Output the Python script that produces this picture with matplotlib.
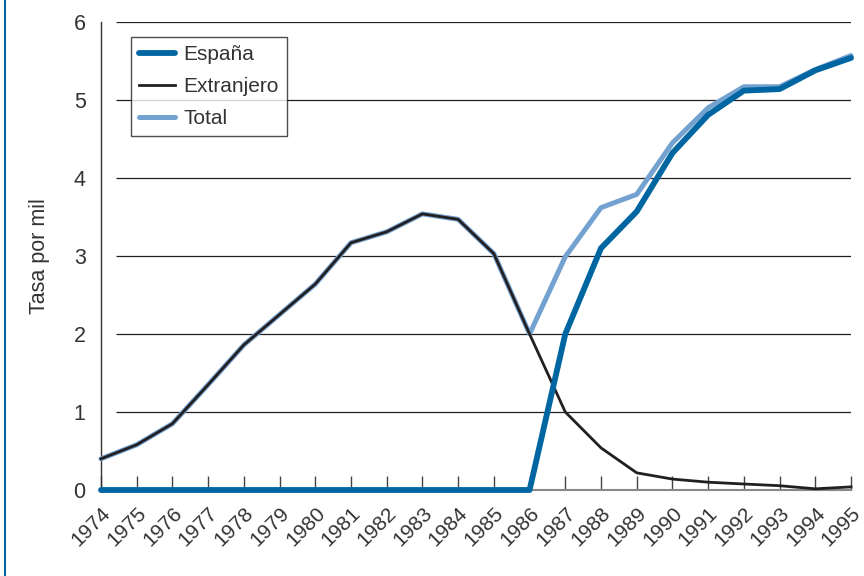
import matplotlib.pyplot as plt
from matplotlib.lines import Line2D
from matplotlib.transforms import ScaledTranslation

# ---- Data ----
years = list(range(1974, 1996))
espana = [0, 0, 0, 0, 0, 0, 0, 0, 0, 0, 0, 0, 0,
          2.0, 3.10, 3.57, 4.32, 4.81, 5.12, 5.14, 5.38, 5.54]
extranjero = [0.40, 0.58, 0.85, 1.35, 1.86, 2.25, 2.64, 3.17, 3.31, 3.54, 3.47, 3.03, 2.0,
              1.0, 0.54, 0.22, 0.14, 0.10, 0.077, 0.055, 0.015, 0.04]
total = [0.40, 0.58, 0.85, 1.35, 1.86, 2.25, 2.64, 3.17, 3.31, 3.54, 3.47, 3.03, 2.0,
         2.99, 3.62, 3.79, 4.45, 4.90, 5.17, 5.17, 5.39, 5.57]
y_ticks = [0, 1, 2, 3, 4, 5, 6]

# ---- Style ----
plt.rcParams['font.family'] = ['Liberation Sans', 'DejaVu Sans']
C_ESP = '#0066a1'
C_EXT = '#231f20'
C_TOT = '#74a2d0'
TEXT = '#333333'

fig = plt.figure(figsize=(8.64, 5.76), dpi=100)
ax = fig.add_axes([101 / 864, 1 - 490 / 576, 750 / 864, 468 / 576])

# gridlines start a bit right of the y spine
ax.hlines(y_ticks[1:], 0.02, 1.0, transform=ax.get_yaxis_transform(),
          color=C_EXT, lw=0.9, zorder=1)

ax.plot(years, total, color=C_TOT, lw=3.6, solid_capstyle='round',
        solid_joinstyle='round', clip_on=False, zorder=3, label='Total')
ax.plot(years, extranjero, color=C_EXT, lw=2.0, solid_joinstyle='round',
        clip_on=False, zorder=4, label='Extranjero')
ax.plot(years, espana, color=C_ESP, lw=4.2, solid_capstyle='round',
        solid_joinstyle='round', clip_on=False, zorder=5, label='España')

ax.set_xlim(1974, 1995)
ax.set_ylim(0, 6)
ax.set_xticks(years)
ax.set_xticklabels([str(y) for y in years], rotation=45, ha='right',
                   rotation_mode='anchor', fontsize=15, color=TEXT)
shift = ScaledTranslation(-6 / 100, 0, fig.dpi_scale_trans)
for lbl in ax.get_xticklabels():
    lbl.set_transform(lbl.get_transform() + shift)
ax.set_yticks(y_ticks)
ax.set_yticklabels([str(v) for v in y_ticks], fontsize=15.5, color=TEXT)
ax.tick_params(axis='x', direction='in', length=10, width=1, color='#444444', pad=10)
ax.tick_params(axis='y', length=0, pad=11)

for s in ['top', 'right']:
    ax.spines[s].set_visible(False)
ax.spines['left'].set_color('#333333')
ax.spines['bottom'].set_color('#888888')
ax.spines['left'].set_linewidth(1.0)
ax.spines['bottom'].set_linewidth(1.5)

ax.set_ylabel('Tasa por mil', fontsize=15.5, color=TEXT, labelpad=17)

handles = [Line2D([], [], color=C_ESP, lw=4.2, solid_capstyle='round'),
           Line2D([], [], color=C_EXT, lw=2.0),
           Line2D([], [], color=C_TOT, lw=3.6, solid_capstyle='round')]
leg = ax.legend(handles, ['España', 'Extranjero', 'Total'], loc='upper left',
                bbox_to_anchor=(0.04, 0.968), fontsize=15, frameon=True,
                fancybox=False, edgecolor=C_EXT, handlelength=1.7,
                handletextpad=0.4, labelspacing=0.62, borderpad=0.4,
                borderaxespad=0, labelcolor=TEXT)
leg.get_frame().set_linewidth(1.0)
leg.set_zorder(6)

# blue border line on the left of the figure
fig.add_artist(Line2D([5 / 864, 5 / 864], [0, 1], color=C_ESP, lw=1.5,
                      transform=fig.transFigure))

fig.savefig('out.png', dpi=100)
